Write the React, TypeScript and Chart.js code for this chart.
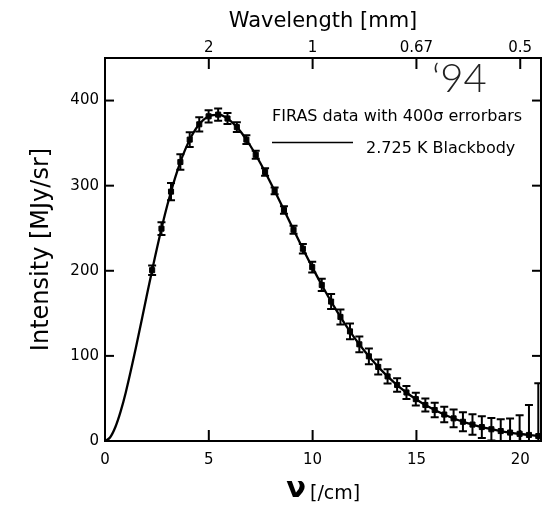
import React, { useEffect, useRef } from 'react';
import { Chart, registerables } from 'chart.js';

Chart.register(...registerables);

// FIRAS measured spectrum: frequency [/cm], intensity [MJy/sr], 400-sigma error [MJy/sr]
const firasNu = [2.27, 2.72, 3.18, 3.63, 4.08, 4.54, 4.99, 5.45, 5.90, 6.35, 6.81, 7.26, 7.71, 8.17, 8.62, 9.08, 9.53, 9.98, 10.44, 10.89, 11.34, 11.80, 12.25, 12.71, 13.16, 13.61, 14.07, 14.52, 14.97, 15.43, 15.88, 16.34, 16.79, 17.24, 17.70, 18.15, 18.61, 19.06, 19.51, 19.97, 20.42, 20.87];
const firasIntensity = [200.7, 249.5, 293.0, 327.8, 354.1, 372.1, 381.5, 383.5, 378.9, 368.8, 354.1, 336.3, 316.1, 293.9, 271.4, 248.2, 225.9, 204.3, 183.3, 163.8, 145.8, 128.8, 113.6, 99.5, 87.0, 75.9, 65.8, 57.0, 49.2, 42.3, 36.4, 31.1, 26.6, 22.6, 19.3, 16.4, 13.8, 11.7, 9.9, 8.4, 7.1, 5.8];
const firasError = [5.6, 7.6, 10.0, 9.2, 8.8, 8.4, 7.2, 7.2, 6.4, 5.6, 5.2, 4.8, 4.4, 4.0, 4.4, 4.8, 5.6, 6.4, 7.2, 8.8, 8.8, 9.2, 9.2, 9.2, 8.8, 8.4, 8.0, 7.6, 7.6, 7.6, 8.4, 9.2, 10.4, 11.2, 12.0, 12.8, 13.2, 14.0, 16.4, 22.0, 35.2, 62.0];

// 2.725 K blackbody curve, values read at these frequencies
const curveNu = [0, 0.25, 0.5, 0.75, 1, 1.5, 2, 2.5, 3, 3.5, 4, 4.5, 5, 5.5, 6, 6.5, 7, 7.5, 8, 8.5, 9, 9.5, 10, 10.5, 11, 11.5, 12, 12.5, 13, 13.5, 14, 14.5, 15, 15.5, 16, 16.5, 17, 17.5, 18, 18.5, 19, 19.5, 20, 20.5, 21];
const curveIntensity = [0, 4.4, 16.4, 34.5, 57.1, 111.0, 169.5, 226.3, 276.9, 318.6, 350.0, 370.9, 381.6, 383.3, 377.1, 364.5, 346.9, 325.7, 302.2, 277.5, 252.3, 227.4, 203.4, 180.6, 159.3, 139.7, 121.8, 105.7, 91.3, 78.5, 67.2, 57.3, 48.8, 41.3, 34.9, 29.4, 24.7, 20.7, 17.3, 14.4, 12.0, 9.95, 8.24, 6.82, 5.63];

const xTicks = [0, 5, 10, 15, 20];
const yTicks = [0, 100, 200, 300, 400];
const wavelengthTickNu = [5, 10, 15, 20];
const wavelengthTickLabels = ['2', '1', '0.67', '0.5'];

const FONT = '"DejaVu Sans", "Liberation Sans", sans-serif';

export default function App() {
  const ref = useRef<HTMLCanvasElement>(null);

  useEffect(() => {
    document.body.style.margin = '0';
    const canvas = ref.current!;
    const setTicks = (vals: number[]) => (scale: any) => {
      scale.ticks = vals.map((v) => ({ value: v }));
    };

    const errorBars = {
      id: 'errorBars',
      afterDatasetsDraw(chart: any) {
        const { ctx, chartArea: a, scales } = chart;
        const x = scales.x;
        const y = scales.y;
        ctx.save();
        ctx.beginPath();
        ctx.rect(a.left, a.top, a.right - a.left, a.bottom - a.top);
        ctx.clip();
        ctx.strokeStyle = '#000';
        firasNu.forEach((nu, i) => {
          const px = x.getPixelForValue(nu);
          const yt = y.getPixelForValue(firasIntensity[i] + firasError[i]);
          const yb = y.getPixelForValue(firasIntensity[i] - firasError[i]);
          ctx.lineWidth = 2;
          ctx.beginPath();
          ctx.moveTo(px, yt);
          ctx.lineTo(px, yb);
          ctx.stroke();
          ctx.lineWidth = 2;
          ctx.beginPath();
          ctx.moveTo(px - 4, yt);
          ctx.lineTo(px + 4, yt);
          ctx.moveTo(px - 4, yb);
          ctx.lineTo(px + 4, yb);
          ctx.stroke();
        });
        ctx.restore();
      },
    };

    const frame = {
      id: 'frame',
      afterDraw(chart: any) {
        const { ctx, chartArea: a, scales } = chart;
        ctx.save();
        ctx.strokeStyle = '#000';
        ctx.lineWidth = 2;
        ctx.strokeRect(a.left, a.top, a.right - a.left, a.bottom - a.top);
        const seg = (x1: number, y1: number, x2: number, y2: number) => {
          ctx.beginPath();
          ctx.moveTo(x1, y1);
          ctx.lineTo(x2, y2);
          ctx.stroke();
        };
        scales.x.ticks.forEach((t: any) => {
          const px = scales.x.getPixelForValue(t.value);
          seg(px, a.bottom, px, a.bottom - 11);
        });
        scales.x2.ticks.forEach((t: any) => {
          const px = scales.x2.getPixelForValue(t.value);
          seg(px, a.top, px, a.top + 11);
        });
        scales.y.ticks.forEach((t: any) => {
          const py = scales.y.getPixelForValue(t.value);
          seg(a.left, py, a.left + 9, py);
          seg(a.right, py, a.right - 9, py);
        });

        // legend + annotation texts
        ctx.fillStyle = '#000';
        ctx.textBaseline = 'alphabetic';
        ctx.textAlign = 'left';
        ctx.font = `16px ${FONT}`;
        ctx.fillText('FIRAS data with 400\u03c3 errorbars', 272, 121);
        ctx.lineWidth = 1.5;
        seg(272, 142.5, 353, 142.5);
        ctx.fillText('2.725 K Blackbody', 366, 153);

        ctx.fillStyle = '#222';
        ctx.font = `300 40px Lato, "Liberation Sans", sans-serif`;
        ctx.fillText('\u201894', 432, 92);

        // bottom axis title
        const cx = (a.left + a.right) / 2;
        ctx.fillStyle = '#000';
        ctx.textAlign = 'right';
        ctx.font = `bold 29px ${FONT}`;
        ctx.fillText('\u03bd', cx - 17, 497);
        ctx.textAlign = 'left';
        ctx.font = `19px ${FONT}`;
        ctx.fillText('[/cm]', cx - 13, 499);
        ctx.restore();
      },
    };

    const tickFont = { family: FONT, size: 15 };

    const chart = new Chart(canvas, {
      type: 'scatter',
      data: {
        datasets: [
          {
            label: '2.725 K Blackbody',
            data: curveNu.map((nu, i) => ({ x: nu, y: curveIntensity[i] })),
            showLine: true,
            borderColor: '#000',
            borderWidth: 2.3,
            pointRadius: 0,
            cubicInterpolationMode: 'monotone',
            order: 2,
          },
          {
            label: 'FIRAS data with 400\u03c3 errorbars',
            data: firasNu.map((nu, i) => ({ x: nu, y: firasIntensity[i] })),
            showLine: false,
            pointStyle: 'rect',
            pointRadius: 3.6,
            borderWidth: 1,
            backgroundColor: '#000',
            borderColor: '#000',
            order: 1,
          },
        ],
      },
      options: {
        responsive: false,
        animation: false,
        devicePixelRatio: 1,
        layout: { padding: { left: 0, right: 7, top: 0, bottom: 0 } },
        plugins: { legend: { display: false }, tooltip: { enabled: false } },
        scales: {
          x: {
            type: 'linear',
            position: 'bottom',
            min: 0,
            max: 21,
            afterBuildTicks: setTicks(xTicks),
            afterFit: (s: any) => { s.height = 65; },
            grid: { display: false, drawTicks: false },
            border: { display: false },
            ticks: { autoSkip: false, maxRotation: 0, padding: 10, color: '#000', font: tickFont, callback: (v: any) => String(v) },
          },
          x2: {
            type: 'linear',
            position: 'top',
            min: 0,
            max: 21,
            afterBuildTicks: setTicks(wavelengthTickNu),
            afterFit: (s: any) => { s.height = 58; },
            grid: { display: false, drawTicks: false },
            border: { display: false },
            ticks: {
              autoSkip: false,
              maxRotation: 0,
              padding: 1,
              color: '#000',
              font: tickFont,
              callback: (v: any) => {
                const k = wavelengthTickNu.indexOf(Number(v));
                return k >= 0 ? wavelengthTickLabels[k] : '';
              },
            },
            title: { display: true, text: 'Wavelength [mm]', color: '#000', font: { family: FONT, size: 21 }, padding: { top: 9, bottom: 0 } },
          },
          y: {
            type: 'linear',
            min: 0,
            max: 450,
            afterBuildTicks: setTicks(yTicks),
            afterFit: (s: any) => { s.width = 105; },
            grid: { display: false, drawTicks: false },
            border: { display: false },
            ticks: { autoSkip: false, padding: 6, color: '#000', font: tickFont, callback: (v: any) => String(v) },
            title: { display: true, text: 'Intensity [MJy/sr]', color: '#000', font: { family: FONT, size: 24 }, padding: { top: 27, bottom: 0 } },
          },
        },
      },
      plugins: [errorBars, frame],
    } as any);

    return () => chart.destroy();
  }, []);

  return <canvas ref={ref} width={548} height={506} style={{ display: 'block' }} />;
}
